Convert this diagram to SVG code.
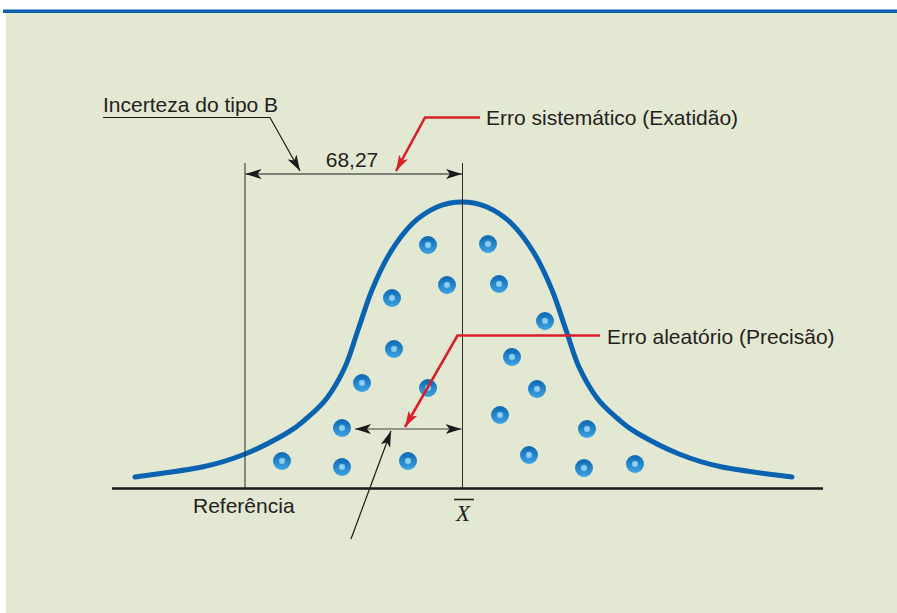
<svg xmlns="http://www.w3.org/2000/svg" width="897" height="613" viewBox="0 0 897 613">
<defs>
<style>
.txt{font-family:"Liberation Sans",Arial,sans-serif;font-size:21px;fill:#231f20}
.ext{stroke:#2b2b2b;stroke-width:1;fill:none}
.blk{stroke:#1a1a1a;stroke-width:1.2;fill:none}
.red{stroke:#d9202a;stroke-width:2.6;fill:none;stroke-linejoin:miter}
.dot{fill:url(#dotg)}
.spot{fill:url(#spotg)}
</style>
<linearGradient id="dotg" x1="0" y1="0" x2="0" y2="1">
<stop offset="0" stop-color="#0b67b2"/>
<stop offset="1" stop-color="#3ea3e3"/>
</linearGradient>
<radialGradient id="spotg">
<stop offset="0" stop-color="#a9d8f4"/>
<stop offset="1" stop-color="#6cbbe9"/>
</radialGradient>
<marker id="ah" viewBox="0 0 16 10" refX="16" refY="5" markerWidth="16" markerHeight="10" markerUnits="userSpaceOnUse" orient="auto-start-reverse">
<path d="M0,0 L16,5 L0,10 L4,5 z" fill="#1a1a1a"/>
</marker>
<marker id="ahr" viewBox="0 0 16 10" refX="16" refY="5" markerWidth="16" markerHeight="10" markerUnits="userSpaceOnUse" orient="auto">
<path d="M0,0 L16,5 L0,10 L4,5 z" fill="#d9202a"/>
</marker>
</defs>
<rect x="0" y="0" width="897" height="613" fill="#ffffff"/>
<rect x="6" y="12" width="891" height="601" fill="#e3e8d2"/>
<rect x="3" y="9.5" width="894" height="3.5" fill="#0b5fad"/>

<g id="curve">
<path d="M135,477 C146.2,475.3 183.7,470.8 202,467 C220.3,463.2 230.8,459.7 245,454 C259.2,448.3 276.7,439 287,433 C297.3,427 300.3,423.8 307,418 C313.7,412.2 320.7,406.5 327,398 C333.3,389.5 339.8,378.3 345,367 C350.2,355.7 353.5,342.8 358,330 C362.5,317.2 366.7,302.8 372,290 C377.3,277.2 383.3,264 390,253 C396.7,242 404.2,231.7 412,224 C419.8,216.3 428.7,210.7 437,207 C445.3,203.3 453.7,202 462,202 C470.3,202 478.7,203.3 487,207 C495.3,210.7 504.2,216.3 512,224 C519.8,231.7 527.3,242 534,253 C540.7,264 546.7,277.2 552,290 C557.3,302.8 561.5,317.2 566,330 C570.5,342.8 573.8,355.7 579,367 C584.2,378.3 590.7,389.5 597,398 C603.3,406.5 610.3,412.2 617,418 C623.7,423.8 626.7,427 637,433 C647.3,439 664.8,448.3 679,454 C693.2,459.7 703.7,463.2 722,467 C740.3,470.8 779,475.3 792,477" fill="none" stroke="#0a63b0" stroke-width="5" stroke-linecap="round" stroke-linejoin="round"/>
</g>

<g id="dots">
<g><circle class="dot" cx="428" cy="245" r="9"/><circle class="spot" cx="428" cy="245" r="3.2"/></g>
<g><circle class="dot" cx="488" cy="244" r="9"/><circle class="spot" cx="488" cy="244" r="3.2"/></g>
<g><circle class="dot" cx="392" cy="298" r="9"/><circle class="spot" cx="392" cy="298" r="3.2"/></g>
<g><circle class="dot" cx="447" cy="285" r="9"/><circle class="spot" cx="447" cy="285" r="3.2"/></g>
<g><circle class="dot" cx="499" cy="284" r="9"/><circle class="spot" cx="499" cy="284" r="3.2"/></g>
<g><circle class="dot" cx="545" cy="321" r="9"/><circle class="spot" cx="545" cy="321" r="3.2"/></g>
<g><circle class="dot" cx="394" cy="349" r="9"/><circle class="spot" cx="394" cy="349" r="3.2"/></g>
<g><circle class="dot" cx="512" cy="357" r="9"/><circle class="spot" cx="512" cy="357" r="3.2"/></g>
<g><circle class="dot" cx="362" cy="383" r="9"/><circle class="spot" cx="362" cy="383" r="3.2"/></g>
<g><circle class="dot" cx="428" cy="388" r="9"/><circle class="spot" cx="428" cy="388" r="3.2"/></g>
<g><circle class="dot" cx="537" cy="389" r="9"/><circle class="spot" cx="537" cy="389" r="3.2"/></g>
<g><circle class="dot" cx="500" cy="415" r="9"/><circle class="spot" cx="500" cy="415" r="3.2"/></g>
<g><circle class="dot" cx="342" cy="428" r="9"/><circle class="spot" cx="342" cy="428" r="3.2"/></g>
<g><circle class="dot" cx="587" cy="429" r="9"/><circle class="spot" cx="587" cy="429" r="3.2"/></g>
<g><circle class="dot" cx="282" cy="461" r="9"/><circle class="spot" cx="282" cy="461" r="3.2"/></g>
<g><circle class="dot" cx="342" cy="467" r="9"/><circle class="spot" cx="342" cy="467" r="3.2"/></g>
<g><circle class="dot" cx="408" cy="461" r="9"/><circle class="spot" cx="408" cy="461" r="3.2"/></g>
<g><circle class="dot" cx="529" cy="455" r="9"/><circle class="spot" cx="529" cy="455" r="3.2"/></g>
<g><circle class="dot" cx="584" cy="468" r="9"/><circle class="spot" cx="584" cy="468" r="3.2"/></g>
<g><circle class="dot" cx="635" cy="464" r="9"/><circle class="spot" cx="635" cy="464" r="3.2"/></g>
</g>

<g id="axis">
<line x1="112" y1="488.5" x2="823" y2="488.5" stroke="#1a1a1a" stroke-width="2.4"/>
<line class="ext" x1="245" y1="163" x2="245" y2="488"/>
<line class="ext" x1="462.5" y1="163" x2="462.5" y2="488"/>
</g>

<g id="connectors">
<line class="blk" x1="245.5" y1="174" x2="462" y2="174" marker-start="url(#ah)" marker-end="url(#ah)"/>
<polyline class="blk" points="103,117.5 270,117.5 300,171" marker-end="url(#ah)"/>
<polyline class="red" points="480,117.5 425,117.5 396,171" marker-end="url(#ahr)"/>
<polyline class="red" points="600,335.5 457.5,335.5 405,427" marker-end="url(#ahr)"/>
<line x1="355" y1="429" x2="461.5" y2="429" stroke="#7a7a72" stroke-width="1.6" marker-start="url(#ah)" marker-end="url(#ah)"/>
<line class="blk" x1="351" y1="539" x2="391" y2="431" marker-end="url(#ah)"/>
</g>

<g id="labels">
<text class="txt" x="103" y="112">Incerteza do tipo B</text>
<text class="txt" x="352" y="167" text-anchor="middle">68,27</text>
<text class="txt" x="486" y="125">Erro sistemático (Exatidão)</text>
<text class="txt" x="607" y="344">Erro aleatório (Precisão)</text>
<text class="txt" x="193" y="513">Referência</text>
<g id="xbar">
<text x="463" y="521" text-anchor="middle" font-family="Liberation Serif,'Times New Roman',serif" font-style="italic" font-size="23" fill="#231f20">X</text>
<line x1="454" y1="499.5" x2="474" y2="499.5" stroke="#231f20" stroke-width="1.6"/>
</g>
</g>
</svg>
